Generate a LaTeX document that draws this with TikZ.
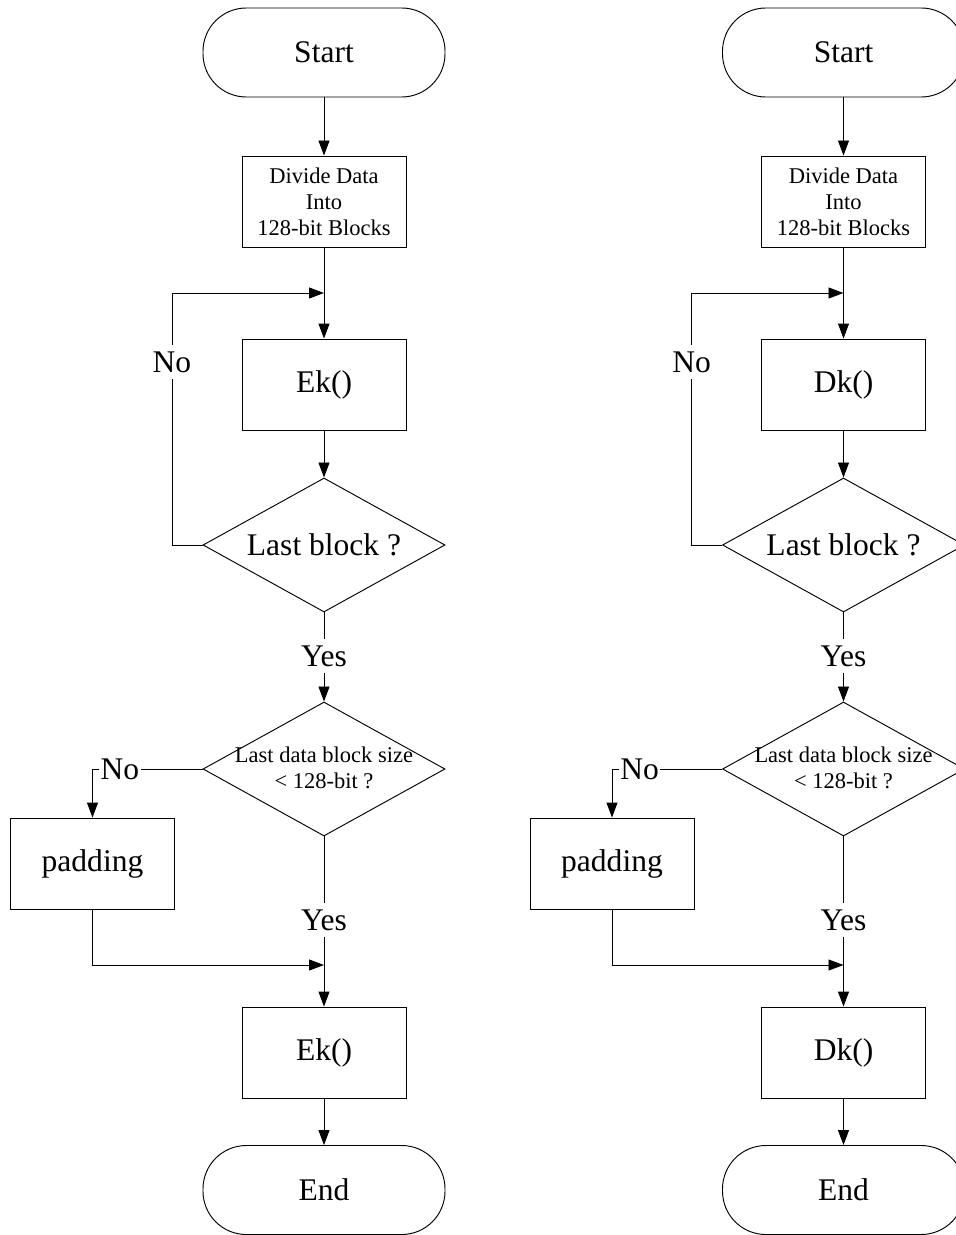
\documentclass[tikz,border=0pt]{standalone}
\usepackage{fontspec}
\setmainfont{Liberation Serif}
\usetikzlibrary{arrows.meta,shapes.geometric}
\newcommand\bigfont{\fontsize{26.9}{30}\selectfont}
\newcommand\smallfont{\fontsize{19.2}{22.2}\selectfont}
\tikzset{
	flow/.style={line width=0.8pt},
	arr/.style={flow, -{Triangle[length=0.45cm,width=0.33cm]}},
	term/.style={draw, flow, rectangle, rounded corners=1.3cm, minimum width=7.26cm, minimum height=2.67cm, font=\bigfont},
	proc/.style={draw, flow, rectangle, minimum width=4.92cm, minimum height=2.73cm, font=\bigfont},
	decision/.style={draw, flow, diamond, minimum width=7.26cm, minimum height=4.02cm, inner sep=0pt},
	lbl/.style={fill=white, inner xsep=1pt, inner ysep=5pt, font=\bigfont},
}

\begin{document}
\begin{tikzpicture}[x=0.03cm, y=-0.03cm]
			%%%%% START %%%%%
			
			\useasboundingbox (0, 0) rectangle (956, 1235);
			\clip (0, 0) rectangle (956, 1235);
			
			\foreach \dx/\op/\s in {0/Ek/a, 519.5/Dk/b} {
				\node[term] (start\s) at (324+\dx, 52.5) {Start};
				\node[proc, font=\smallfont, align=center] (divide\s) at (324+\dx, 201.5) {Divide Data\\Into\\128-bit Blocks};
				\coordinate (join1\s) at (324+\dx, 293);
				\node[proc] (enc1\s) at (324+\dx, 384.5) {\op()};
				
				\node[decision] (dec1\s) at (324+\dx, 545) {};
				\node[font=\bigfont] (q1\s) at (dec1\s) {Last block ?};
				\node[lbl] (no1\s) at (172+\dx, 362) {No};
				\node[lbl] (yes1\s) at (324+\dx, 656) {Yes};
				
				\node[decision] (dec2\s) at (324+\dx, 769) {};
				\node[font=\smallfont, align=center] (q2\s) at (324+\dx, 768) {Last data block size\\< 128-bit ?};
				\node[lbl] (no2\s) at (120+\dx, 769) {No};
				\node[proc] (pad\s) at (92.5+\dx, 863.5) {padding};
				\node[lbl] (yes2\s) at (324+\dx, 920) {Yes};
				\coordinate (join2\s) at (324+\dx, 965);
				
				\node[proc] (enc2\s) at (324+\dx, 1052.5) {\op()};
				\node[term] (end\s) at (324+\dx, 1190) {End};
				
				\draw[arr] (start\s) -- (divide\s);
				\draw[arr] (divide\s) -- (enc1\s);
				\draw[arr] (enc1\s) -- (dec1\s);
				\draw[flow] (dec1\s.west) -| (no1\s);
				\draw[arr] (no1\s) |- (join1\s);
				\draw[flow] (dec1\s) -- (yes1\s);
				\draw[arr] (yes1\s) -- (dec2\s);
				
				\draw[flow] (dec2\s.west) -- (no2\s);
				\draw[arr] (no2\s) -| (pad\s);
				\draw[arr] (pad\s) |- (join2\s);
				\draw[flow] (dec2\s) -- (yes2\s);
				\draw[arr] (yes2\s) -- (enc2\s);
				\draw[arr] (enc2\s) -- (end\s);
			}
			
			%%%%% END %%%%%
\end{tikzpicture}
\end{document}
